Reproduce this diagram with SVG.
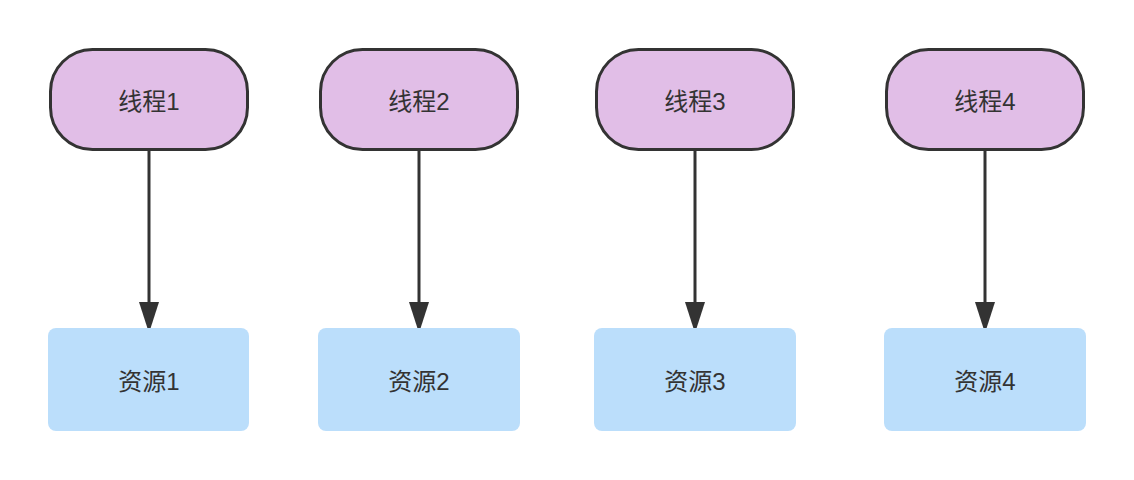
<svg xmlns="http://www.w3.org/2000/svg" width="1134" height="480" viewBox="0 0 1134 480">
<style>
.thread{fill:#e1bee7;stroke:#333333;stroke-width:3}
.res{fill:#bbdefb;stroke:none}
.lbl{font-family:"Liberation Sans","Noto Sans CJK SC",sans-serif;font-size:24px;fill:#333333;text-anchor:middle;dominant-baseline:central}
.edge{stroke:#333333;stroke-width:3;fill:none}
.head{fill:#333333}
</style>
<rect width="1134" height="480" fill="#ffffff"/>
<g id="connectors">
<path class="edge" d="M149,151 L149,312"/>
<path class="edge" d="M419,151 L419,312"/>
<path class="edge" d="M695,151 L695,312"/>
<path class="edge" d="M985,151 L985,312"/>
<path class="head" d="M139,302 L159,302 L149,333 Z"/>
<path class="head" d="M409,302 L429,302 L419,333 Z"/>
<path class="head" d="M685,302 L705,302 L695,333 Z"/>
<path class="head" d="M975,302 L995,302 L985,333 Z"/>
</g>
<g id="thread1"><rect class="thread" x="50.5" y="49.5" width="197" height="100" rx="42" ry="42"/><text class="lbl" x="149" y="101">线程1</text></g>
<g id="thread2"><rect class="thread" x="320.5" y="49.5" width="197" height="100" rx="42" ry="42"/><text class="lbl" x="419" y="101">线程2</text></g>
<g id="thread3"><rect class="thread" x="596.5" y="49.5" width="197" height="100" rx="42" ry="42"/><text class="lbl" x="695" y="101">线程3</text></g>
<g id="thread4"><rect class="thread" x="886.5" y="49.5" width="197" height="100" rx="42" ry="42"/><text class="lbl" x="985" y="101">线程4</text></g>
<g id="res1"><rect class="res" x="48" y="328" width="201" height="103" rx="8" ry="8"/><text class="lbl" x="149" y="381">资源1</text></g>
<g id="res2"><rect class="res" x="318" y="328" width="202" height="103" rx="8" ry="8"/><text class="lbl" x="419" y="381">资源2</text></g>
<g id="res3"><rect class="res" x="594" y="328" width="202" height="103" rx="8" ry="8"/><text class="lbl" x="695" y="381">资源3</text></g>
<g id="res4"><rect class="res" x="884" y="328" width="202" height="103" rx="8" ry="8"/><text class="lbl" x="985" y="381">资源4</text></g>
</svg>
